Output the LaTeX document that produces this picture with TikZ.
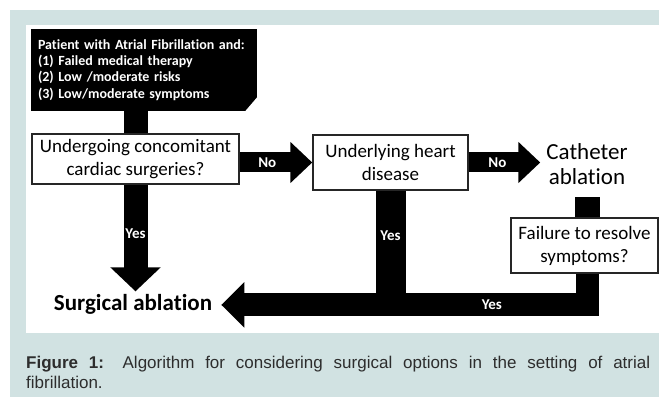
\documentclass[tikz,border=0pt]{standalone}
\usepackage{fontspec}
\setmainfont{Carlito}[Ligatures={NoCommon}]
\newfontfamily\capfont{Liberation Sans}
\usetikzlibrary{arrows.meta, positioning, calc}
\definecolor{panelbg}{RGB}{209,226,226}
\definecolor{captext}{RGB}{45,45,45}
\tikzset{
    startbox/.style={
        rectangle, fill=black, text=white,
        font=\fontsize{14}{16.3}\selectfont\bfseries,
        align=left, text width=212pt, inner xsep=7pt, minimum height=82pt
    },
    question/.style={rectangle, draw=black!85, line width=1.5pt, fill=white, align=center, font=\fontsize{19}{23}\selectfont},
    outcome/.style={align=center, font=\fontsize{23}{25}\selectfont},
    % fat connectors
    bar/.style={draw, line width=24pt},
    fatarrow/.style={draw, line width=20pt, -{Triangle[length=22pt, width=40pt]}},
    barlabel/.style={text=white, font=\fontsize{15}{15}\selectfont\bfseries, inner sep=0pt}
}

\begin{document}
\begin{tikzpicture}[x=1pt, y=-1pt]
    \useasboundingbox (0,0) rectangle (659,398);
    \fill[panelbg] (10,10) rectangle (659,397);
    \fill[white] (26,25) rectangle (659,333);

    \node (patient) [startbox] at (144,70) {Patient with Atrial Fibrillation and:\\ (1) Failed medical therapy\\ (2) Low /moderate risks\\ (3) Low/moderate symptoms};
    \fill[white] (patient.south east) -- ++(-12,0) -- ++(12,-14) -- cycle;
    \node (surgery) [question, minimum width=207pt, minimum height=50pt] at (135.5,159) {Undergoing concomitant\\ cardiac surgeries?};
    \node (heart) [question, minimum width=155pt, minimum height=55pt] at (390.5,162.5) {Underlying heart\\ disease};
    \node (catheter) [outcome, inner xsep=6pt, inner ysep=12pt] at (587,164.5) {Catheter\\ ablation};
    \node (failure) [question, minimum width=147pt, minimum height=55pt] at (584.5,245.5) {Failure to resolve\\ symptoms?};
    \node (surgical) [outcome, font=\fontsize{23}{25}\selectfont\bfseries, inner xsep=9pt, anchor=base] at (133,311) {Surgical ablation};

    \draw [bar] (surgery.north |- patient.south) -- (surgery.north);
    \draw [fatarrow] (surgery.east |- heart.west) -- node[barlabel, pos=0.38] {No} (heart.west);
    \draw [fatarrow] (heart.east) -- node[barlabel, pos=0.4] {No} (catheter.west |- heart.east);
    \draw [bar, line width=25pt] (catheter.south) -- (catheter.south |- failure.north);
    \draw [bar, line width=30pt] (heart.south) -- node[barlabel, pos=0.39] {Yes} (heart.south |- surgical.east);
    \draw [fatarrow, line width=23pt, -{Triangle[length=23pt, width=44pt]}] (catheter.south |- failure.south) |- node[barlabel, pos=0.63] {Yes} (surgical.east);
    \draw [fatarrow, line width=24pt, -{Triangle[length=24pt, width=49pt]}] (surgery.south) -- node[barlabel, pos=0.46] {Yes} (surgery.south |- surgical.north);

    \node (caption) [anchor=base west, text width=624pt, align=justify, inner sep=0pt, text=captext, font=\capfont\fontsize{17}{20}\selectfont] at (26,368) {\textbf{Figure 1:} Algorithm for considering surgical options in the setting of atrial\linebreak fibrillation.};
\end{tikzpicture}
\end{document}
